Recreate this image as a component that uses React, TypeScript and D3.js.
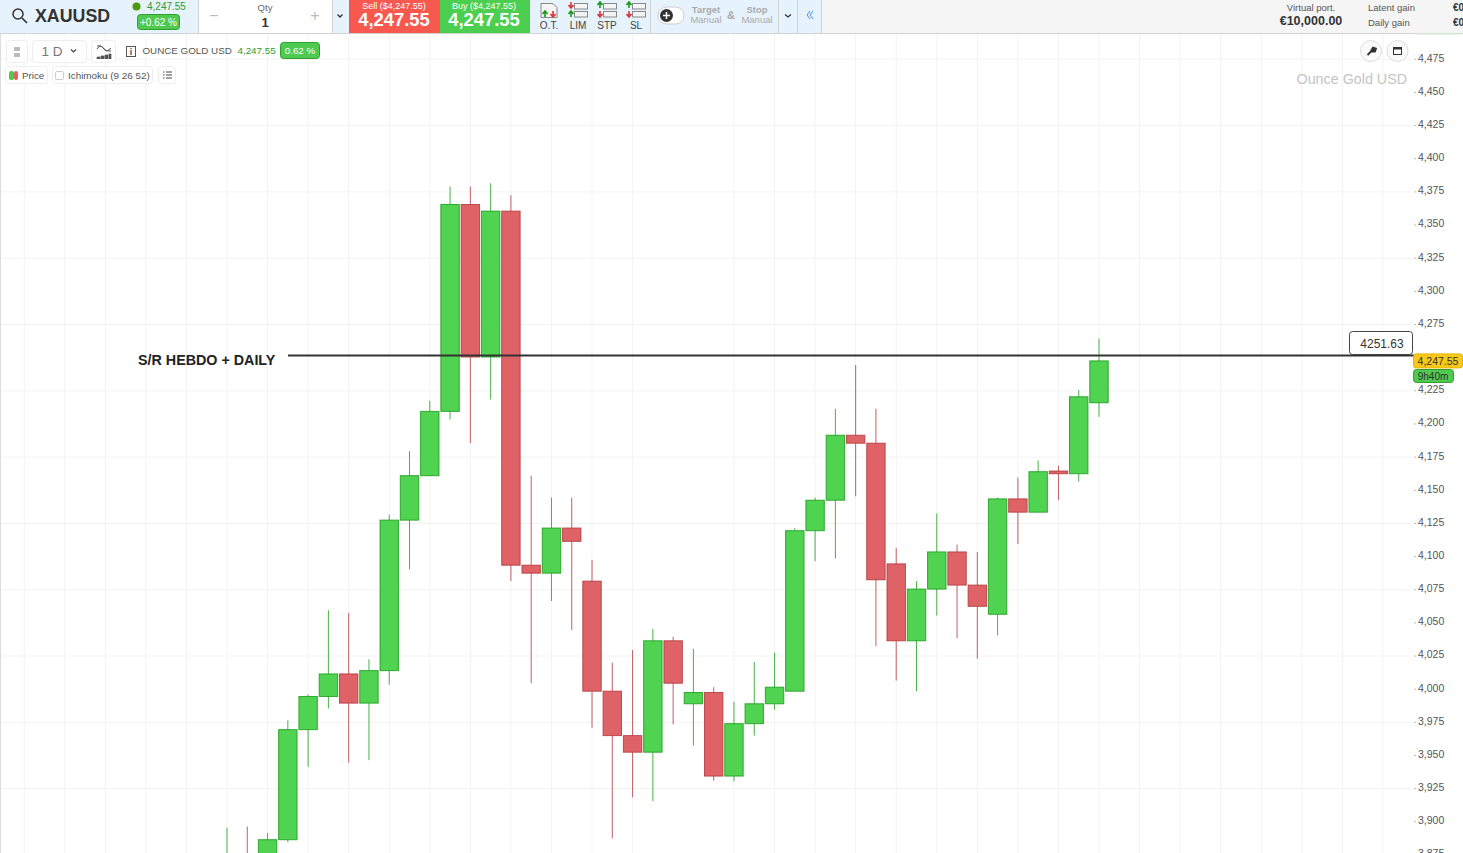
import React, { useEffect, useRef } from 'react';
import * as d3 from 'd3';

// Daily candles
const opens = [3860.5, 3870.5, 3860.5, 3886.5, 3969.5, 3994.5, 4011.5, 3989.5, 4014, 4127.5, 4161, 4209.5, 4365.5, 4250.5, 4360.5, 4093.5, 4087.5, 4121.5, 4081.5, 3998.5, 3965, 3952.5, 4036.5, 3989, 3997.5, 3934.5, 3974, 3989, 3998.5, 4119.5, 4142.5, 4191.5, 4185.5, 4094.5, 4036.5, 4075.5, 4103.5, 4078.5, 4056.5, 4143.5, 4133.5, 4164.5, 4162.5, 4216];
const highs = [3895.5, 3896.5, 3891.5, 3976.5, 3996, 4059.5, 4057.5, 4022.5, 4131.5, 4179.5, 4217.5, 4379, 4379, 4381.5, 4372.5, 4161, 4144.5, 4144.5, 4097.5, 4020, 4029.5, 4045.5, 4039.5, 4030.5, 4001.5, 3990.5, 4020.5, 4027.5, 4121.5, 4144.5, 4211.5, 4244.5, 4211.5, 4106.5, 4081.5, 4132.5, 4109, 4103.5, 4144.5, 4159.5, 4172.5, 4168.5, 4225.5, 4264.5];
const lows = [3850, 3850, 3850, 3884.5, 3941.5, 3985.5, 3944.5, 3946.5, 4003.5, 4090.5, 4203.5, 4203.5, 4185.5, 4218.5, 4081.5, 4004.5, 4066.5, 4044.5, 3971, 3887.5, 3918.5, 3915.5, 3973.5, 3957.5, 3931, 3930.5, 3965, 3984.5, 3998.5, 4096.5, 4098.5, 4145.5, 4032.5, 4006.5, 3998.5, 4055.5, 4038.5, 4023, 4040.5, 4109.5, 4133.5, 4142.5, 4156.5, 4205.5];
const closes = [3870.5, 3862.5, 3886.5, 3969.5, 3994.5, 4011.5, 3989.5, 4014, 4127.5, 4161, 4209.5, 4365.5, 4250.5, 4360.5, 4093.5, 4087.5, 4121.5, 4111.5, 3998.5, 3965, 3952.5, 4036.5, 4004.5, 3997.5, 3934.5, 3974, 3989, 4001.5, 4119.5, 4142.5, 4191.5, 4185.5, 4082.5, 4036.5, 4075.5, 4103.5, 4078.5, 4062.5, 4143.5, 4133.5, 4164, 4162.5, 4220.5, 4247.55];
const priceTicks = d3.range(3875, 4476, 25).filter(d => d !== 4250); // 4,250 sits under the price tag
const gridPrices = d3.range(3875, 4476, 50);
// vertical grid follows the dates, so it jumps one candle after the gap
const gridIdx = [...d3.range(-10, 21, 2), ...d3.range(25, 58, 2)];
const srLevel = 4251.63;
const lastPrice = 4247.55;

const W = 1463;
const H = 853;
const FONT = '"Liberation Sans", Arial, sans-serif';
const GREEN = '#4fd350';
const GREEN_DARK = '#1d9e1d';
const RED = '#df6366';
const RED_DARK = '#b13a40';

const Pill = ({ x, y, w, h, fill, stroke, r = 3 }: any) => (
    <rect x={x} y={y} width={w} height={h} rx={r} fill={fill} stroke={stroke} />
);

const Txt = ({ x, y, size = 10, fill = '#444', anchor = 'start', weight = 'normal', children }: any) => (
    <text x={x} y={y} fontSize={size} fill={fill} textAnchor={anchor} fontWeight={weight} fontFamily={FONT}>{children}</text>
);

const UP = '#159a15';
const DOWN = '#d8343a';
const upArrow = (x: number, y: number) => `M${x} ${y + 6} v-5 M${x - 2.5} ${y + 3} l2.5 -3 l2.5 3`;
const downArrow = (x: number, y: number) => `M${x} ${y} v5 M${x - 2.5} ${y + 3} l2.5 3 l2.5 -3`;

const OrderIcon = ({ cx, label, topUp }: any) => (
    <g>
        <rect x={cx - 3.5} y={3.5} width={13} height={5.5} fill="#f4f4f4" stroke="#888" />
        <rect x={cx - 3.5} y={11.5} width={13} height={5.5} fill="#f4f4f4" stroke="#888" />
        <path d={topUp ? upArrow(cx - 7, 2) : downArrow(cx - 7, 2)} stroke={topUp ? UP : DOWN} strokeWidth={1.6} fill="none" />
        <path d={topUp ? downArrow(cx - 7, 11) : upArrow(cx - 7, 11)} stroke={topUp ? DOWN : UP} strokeWidth={1.6} fill="none" />
        <Txt x={cx} y={29} size={10} anchor="middle" fill="#444">{label}</Txt>
    </g>
);

const Candles: React.FC = () => {
    const ref = useRef<SVGGElement>(null);

    useEffect(() => {
        if (!ref.current) return;
        const g = d3.select(ref.current);
        g.selectAll('*').remove();

        const x = d3.scaleLinear().domain([0, opens.length - 1]).range([227, 1099]);
        const y = d3.scaleLinear().domain([3900, 4475]).range([821.8, 59.3]);

        // grid
        g.append('g').selectAll('line').data(gridIdx).join('line')
            .attr('x1', d => x(d)).attr('x2', d => x(d))
            .attr('y1', 34).attr('y2', H)
            .attr('stroke', '#f3f3f3');
        g.append('g').selectAll('line').data(gridPrices).join('line')
            .attr('x1', 0).attr('x2', 1411)
            .attr('y1', d => y(d)).attr('y2', d => y(d))
            .attr('stroke', '#f3f3f3');

        // candles
        const candles = g.append('g').selectAll('g').data(opens).join('g');
        candles.append('line')
            .attr('x1', (_d, i) => x(i)).attr('x2', (_d, i) => x(i))
            .attr('y1', (_d, i) => y(highs[i])).attr('y2', (_d, i) => y(lows[i]))
            .attr('stroke', (_d, i) => closes[i] >= opens[i] ? GREEN_DARK : RED_DARK)
            .attr('stroke-opacity', 0.8);
        candles.append('rect')
            .attr('x', (_d, i) => x(i) - 9.2)
            .attr('width', 18.4)
            .attr('y', (d, i) => y(Math.max(d, closes[i])))
            .attr('height', (d, i) => Math.max(1, Math.abs(y(d) - y(closes[i]))))
            .attr('fill', (_d, i) => closes[i] >= opens[i] ? GREEN : RED)
            .attr('stroke', (_d, i) => closes[i] >= opens[i] ? GREEN_DARK : RED_DARK)
            .attr('stroke-opacity', 0.85);

        // S/R level
        g.append('line')
            .attr('x1', 288).attr('x2', 1414)
            .attr('y1', y(srLevel)).attr('y2', y(srLevel))
            .attr('stroke', '#333').attr('stroke-width', 2);

        // price axis
        const axis = g.append('g').selectAll('g').data(priceTicks).join('g')
            .attr('transform', d => `translate(0, ${y(d)})`);
        axis.append('line').attr('x1', 1414).attr('x2', 1416).attr('stroke', '#bbb');
        axis.append('text')
            .attr('x', 1418).attr('y', 2.4)
            .attr('font-size', 10.5).attr('font-family', FONT).attr('fill', '#555')
            .text(d => d3.format(',')(d));

        // last price tag
        const tagY = y(lastPrice);
        g.append('rect').attr('x', 1413.5).attr('y', tagY - 7).attr('width', 49).attr('height', 14).attr('rx', 2.5)
            .attr('fill', '#f8c91a').attr('stroke', '#e8b500');
        g.append('text').attr('x', 1438).attr('y', tagY + 3.8).attr('text-anchor', 'middle')
            .attr('font-size', 10.5).attr('font-family', FONT).attr('fill', '#333')
            .text(d3.format(',.2f')(lastPrice));
    }, []);

    return <g ref={ref} />;
};

export default function App() {
    return (
        <svg width={W} height={H} style={{ position: 'absolute', left: 0, top: 0, display: 'block', background: '#fff' }}>
            <Candles />
            <line x1={0.5} x2={0.5} y1={34} y2={H} stroke="#ddd" />

            {/* header strip */}
            <rect x={0} y={0} width={W} height={33} fill="#f5f5f5" />
            <rect x={0} y={0} width={198} height={33} fill="#e6f2fc" />
            <rect x={198} y={0} width={134} height={33} fill="#fff" />
            <rect x={332} y={0} width={17} height={33} fill="#e6f2fc" />
            <rect x={349} y={0} width={91} height={33} fill="#f9584f" />
            <rect x={440} y={0} width={90} height={33} fill="#4ccf50" />
            <rect x={530} y={0} width={292} height={33} fill="#e6f2fc" />
            <line x1={0} x2={W} y1={33.5} y2={33.5} stroke="#d2d2d2" />
            {[198.5, 332.5, 650.5, 778.5, 797.5, 821.5].map(d => <line key={d} x1={d} x2={d} y1={0} y2={33} stroke="#d2d2d2" />)}

            <circle cx={18} cy={14} r={5} fill="none" stroke="#333" strokeWidth={1.5} />
            <line x1={22} y1={18} x2={27} y2={23} stroke="#333" strokeWidth={1.7} />
            <Txt x={35} y={21.5} size={17.8} weight="bold" fill="#333">XAUUSD</Txt>
            <circle cx={136.5} cy={6.5} r={4} fill="#4c9a10" />
            <Txt x={147} y={10} size={10} fill="#2e9a2e">4,247.55</Txt>
            <Pill x={137.5} y={14.5} w={42} h={15} fill="#4fc94f" stroke="#2ea02e" />
            <Txt x={158.5} y={25.5} size={10} fill="#fff" anchor="middle">+0.62 %</Txt>

            <Txt x={265} y={11} size={9.5} anchor="middle" fill="#666">Qty</Txt>
            <Txt x={265} y={27} size={13} anchor="middle" weight="bold" fill="#333">1</Txt>
            <Txt x={214} y={21} size={16} anchor="middle" fill="#bbb">−</Txt>
            <Txt x={315} y={21} size={16} anchor="middle" fill="#bbb">+</Txt>
            <path d="M337.5 14.5 l2.5 2.5 l2.5 -2.5" fill="none" stroke="#333" strokeWidth={1.3} />

            <Txt x={394} y={9} size={9} anchor="middle" fill="#fff">Sell ($4,247.55)</Txt>
            <Txt x={394} y={26} size={18.4} anchor="middle" weight="bold" fill="#fff">4,247.55</Txt>
            <Txt x={484} y={9} size={9} anchor="middle" fill="#fff">Buy ($4,247.55)</Txt>
            <Txt x={484} y={26} size={18.4} anchor="middle" weight="bold" fill="#fff">4,247.55</Txt>

            {/* order type icons */}
            <g>
                <path d="M541 3.5 h12 l4 4 v10 h-16 z" fill="#f4f4f4" stroke="#888" />
                <path d={upArrow(545, 11)} stroke={UP} strokeWidth={1.6} fill="none" />
                <path d={downArrow(553, 11)} stroke={DOWN} strokeWidth={1.6} fill="none" />
                <Txt x={549} y={29} size={10} anchor="middle" fill="#444">O.T.</Txt>
            </g>
            <OrderIcon cx={578} label="LIM" topUp={false} />
            <OrderIcon cx={607} label="STP" topUp />
            <OrderIcon cx={636} label="SL" topUp />

            <rect x={658} y={7} width={26} height={17} rx={8.5} fill="#fff" stroke="#ccc" />
            <circle cx={666.5} cy={15.5} r={6.5} fill="#333" />
            <path d="M663 15.5 h7 M666.5 12 v7" stroke="#fff" strokeWidth={1.5} />
            <Txt x={706} y={13} size={9.5} weight="bold" anchor="middle" fill="#aaa">Target</Txt>
            <Txt x={706} y={23} size={9.5} anchor="middle" fill="#aaa">Manual</Txt>
            <Txt x={731} y={19} size={11} weight="bold" anchor="middle" fill="#aaa">&amp;</Txt>
            <Txt x={757} y={13} size={9.5} weight="bold" anchor="middle" fill="#aaa">Stop</Txt>
            <Txt x={757} y={23} size={9.5} anchor="middle" fill="#aaa">Manual</Txt>
            <path d="M785 14.5 l3 2.5 l3 -2.5" fill="none" stroke="#333" strokeWidth={1.3} />
            <path d="M810 11 l-3 4 l3 4 M813 11 l-3 4 l3 4" fill="none" stroke="#4a90e2" strokeWidth={1} />

            <Txt x={1311} y={11} size={9.5} anchor="middle" fill="#555">Virtual port.</Txt>
            <Txt x={1311} y={25} size={12.5} anchor="middle" weight="bold" fill="#333">€10,000.00</Txt>
            <Txt x={1368} y={11} size={9.5} fill="#555">Latent gain</Txt>
            <Txt x={1368} y={26} size={9.5} fill="#555">Daily gain</Txt>
            <Txt x={1453} y={11} size={10} weight="bold" fill="#333">€0</Txt>
            <Txt x={1453} y={26} size={10} weight="bold" fill="#333">€0</Txt>

            {/* toolbar */}
            <Pill x={6.5} y={40.5} w={21} h={22} fill="#fff" stroke="#eee" />
            <rect x={14} y={47} width={6} height={4} fill="#bbb" />
            <rect x={14} y={53} width={6} height={4} fill="#bbb" />
            <Pill x={32.5} y={40.5} w={54} h={22} fill="#fff" stroke="#eee" />
            <Txt x={52} y={56} size={13.5} anchor="middle" fill="#777">1 D</Txt>
            <path d="M71 49.5 l2.5 2.5 l2.5 -2.5" fill="none" stroke="#444" strokeWidth={1.2} />
            <Pill x={91.5} y={40.5} w={24} h={22} fill="#fff" stroke="#eee" />
            <path d="M97 49 q3 -5 6 -1 t8 3" fill="none" stroke="#555" strokeWidth={1} />
            <path d="M97 46 q5 -1 7 3 t7 -1" fill="none" stroke="#555" strokeWidth={1} />
            <path d="M97 59 v-2 h3 v2 M101 59 v-3 h3 v3 M105 59 v-4 h3 v4 M109 59 v-5 h2 v5" fill="#555" stroke="#555" strokeWidth={0.7} />
            <rect x={126.5} y={46.5} width={9} height={10} fill="#fff" stroke="#555" />
            <Txt x={131} y={55} size={8.5} anchor="middle" weight="bold" fill="#444">i</Txt>
            <Txt x={142.5} y={54} size={9.8} fill="#555">OUNCE GOLD USD</Txt>
            <Txt x={237.5} y={54} size={9.8} fill="#2e9a2e">4,247.55</Txt>
            <Pill x={280.5} y={42.5} w={39} h={16} fill="#4fc94f" stroke="#2ea02e" />
            <Txt x={300} y={54} size={9.8} anchor="middle" fill="#fff">0.62 %</Txt>

            <Pill x={5.5} y={66.5} w={42} h={17} fill="#fff" stroke="#eee" />
            <rect x={9} y={71} width={5} height={9} rx={2} fill="#4fc94f" />
            <rect x={14} y={71} width={4} height={9} rx={2} fill="#e06265" />
            <Txt x={22} y={79} size={9.8} fill="#555">Price</Txt>
            <Pill x={52.5} y={66.5} w={100} h={17} fill="#fff" stroke="#eee" />
            <rect x={55.5} y={71.5} width={8} height={8} rx={1.5} fill="#fff" stroke="#ccc" />
            <Txt x={68} y={79} size={9.9} fill="#555">Ichimoku (9 26 52)</Txt>
            <Pill x={158.5} y={66.5} w={17} h={17} fill="#fff" stroke="#eee" />
            <path d="M166 72 h6 M166 75 h6 M166 78 h6 M163 72 h1.5 M163 75 h1.5 M163 78 h1.5" stroke="#444" strokeWidth={1} />

            <circle cx={1371} cy={51} r={10.5} fill="#fafafa" stroke="#ddd" />
            <path d="M1367.5 55 l4 -4 M1371 51 l2 -3.5 l3 1 l-1 3 z" stroke="#333" strokeWidth={1.8} fill="#333" />
            <circle cx={1397.5} cy={51} r={10.5} fill="#fafafa" stroke="#ddd" />
            <rect x={1393.5} y={47.5} width={8} height={7} fill="#fff" stroke="#333" />
            <rect x={1393.5} y={47.5} width={8} height={2} fill="#333" />
            <rect x={1415} y={33} width={44} height={1.5} fill="#cfe8cf" />
            <Txt x={1407} y={84} size={14.3} anchor="end" fill="#c4c4c4">Ounce Gold USD</Txt>

            {/* annotations */}
            <Txt x={138} y={365} size={14.3} weight="bold" fill="#222">S/R HEBDO + DAILY</Txt>
            <rect x={1349.5} y={331.5} width={63} height={23} rx={3} fill="#fff" stroke="#444" />
            <Txt x={1382} y={348} size={12} anchor="middle" fill="#333">4251.63</Txt>
            <Pill x={1413.5} y={369.5} w={40} h={13} fill="#4fc94f" stroke="#2ea02e" />
            <Txt x={1433} y={380} size={10} anchor="middle" fill="#333">9h40m</Txt>
        </svg>
    );
}
